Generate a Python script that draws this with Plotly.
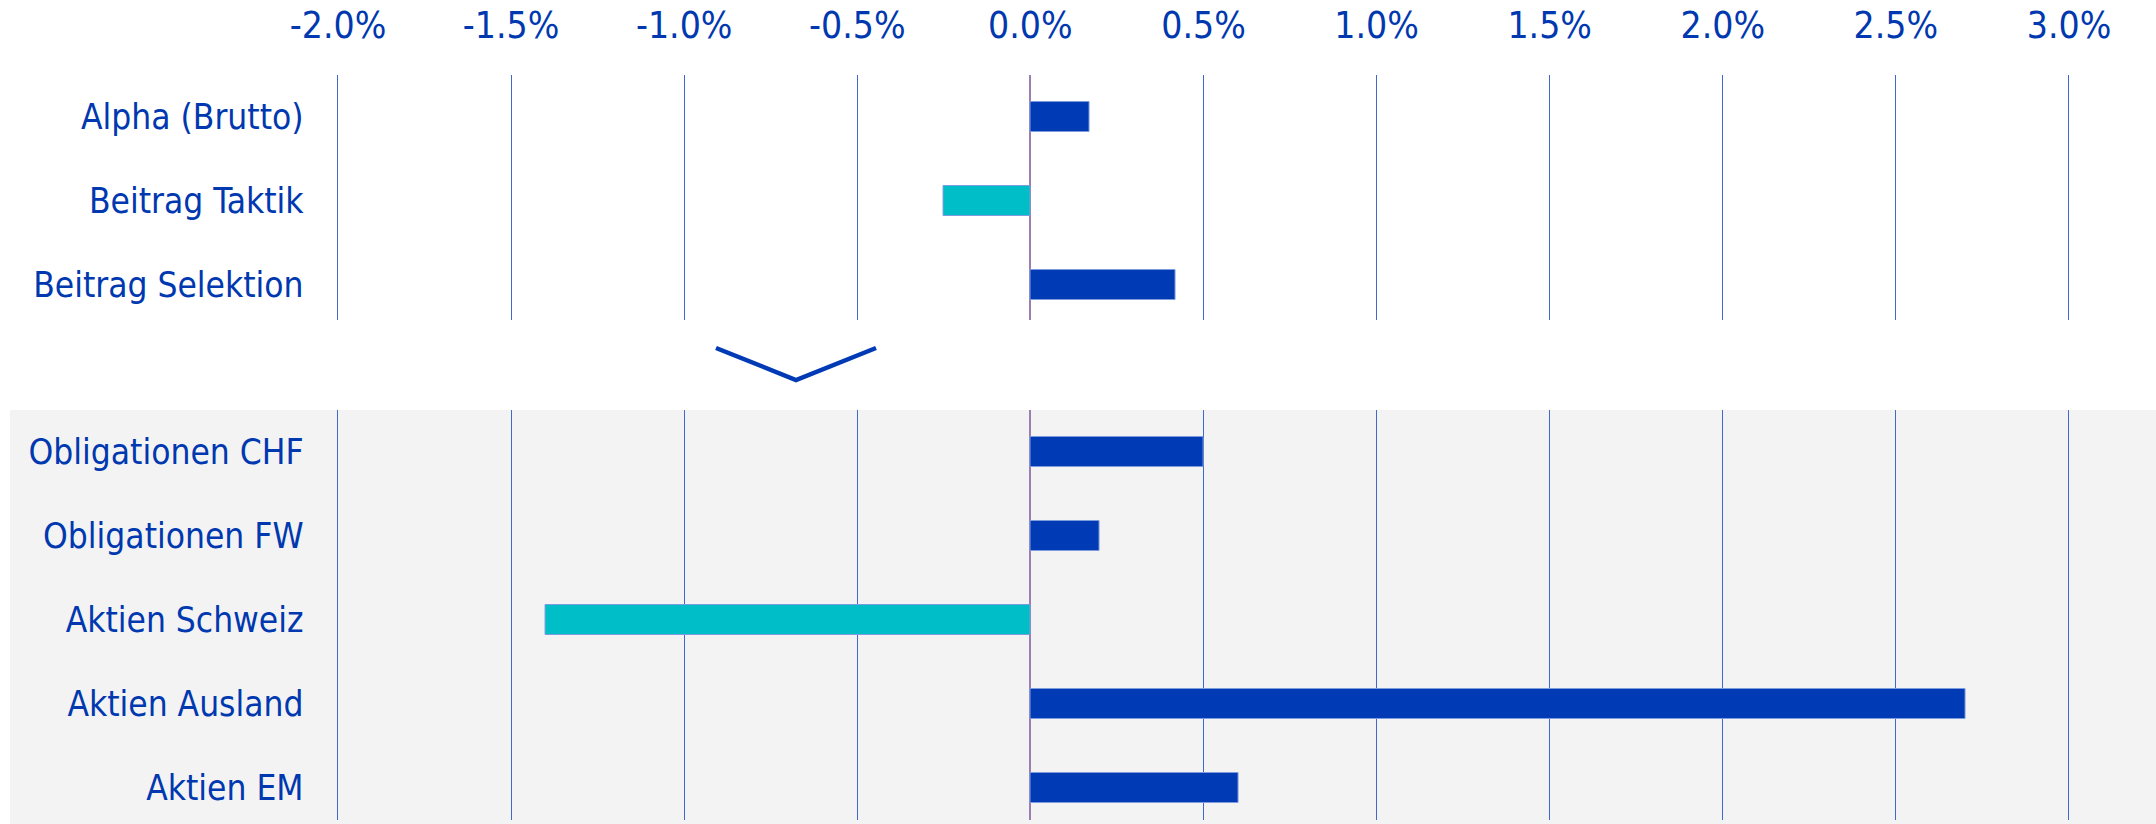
import plotly.graph_objects as go

# ---- data ----
top_categories = ["Alpha (Brutto)", "Beitrag Taktik", "Beitrag Selektion"]
top_values = [0.17, -0.25, 0.42]

bottom_categories = ["Obligationen CHF", "Obligationen FW", "Aktien Schweiz", "Aktien Ausland", "Aktien EM"]
bottom_values = [0.50, 0.20, -1.40, 2.70, 0.60]

x_ticks = [-2.0, -1.5, -1.0, -0.5, 0.0, 0.5, 1.0, 1.5, 2.0, 2.5, 3.0]
x_tick_labels = ["-2.0%", "-1.5%", "-1.0%", "-0.5%", "0.0%", "0.5%", "1.0%", "1.5%", "2.0%", "2.5%", "3.0%"]

# ---- style ----
W, H = 2156, 824
POS = "#003AB4"
NEG = "#00BEC8"
EDGE = "#7E9BDD"
TXT = "#0038B0"
GRID = "#3D6ACB"
ZERO = "#9A80B2"
FONT = "Liberation Sans Narrow, DejaVu Sans Condensed, Arial Narrow, sans-serif"
FS_X = 37
FS_Y = 35


def colors(vals):
    return [POS if v >= 0 else NEG for v in vals]


def px_x(p):
    return p / W


def px_y(p):
    return 1 - p / H


fig = go.Figure()
fig.add_trace(go.Bar(
    y=top_categories, x=top_values, orientation="h",
    marker=dict(color=colors(top_values), line=dict(color=EDGE, width=1)),
    width=0.36, xaxis="x", yaxis="y", showlegend=False,
))
fig.add_trace(go.Bar(
    y=bottom_categories, x=bottom_values, orientation="h",
    marker=dict(color=colors(bottom_values), line=dict(color=EDGE, width=1)),
    width=0.36, xaxis="x2", yaxis="y2", showlegend=False,
))

# -2 -> 338px, 3 -> 2069px; pad range slightly so edge gridlines are kept
PPU = (2069 - 338) / 5.0
PAD = 0.01
xdom = [px_x(338 - PAD * PPU), px_x(2069 + PAD * PPU)]
common_x = dict(
    range=[-2.0 - PAD, 3.0 + PAD], tickvals=x_ticks, ticktext=x_tick_labels,
    showgrid=True, gridcolor=GRID, gridwidth=1,
    zeroline=True, zerolinecolor=ZERO, zerolinewidth=2,
    showline=False, fixedrange=True, automargin=False,
)
ycommon = dict(
    type="category", showgrid=False, zeroline=False, showline=False,
    ticks="outside", ticklen=23, tickcolor="rgba(0,0,0,0)",
    tickfont=dict(family=FONT, size=FS_Y, color=TXT), automargin=False,
    fixedrange=True,
)

fig.update_layout(
    width=W, height=H,
    margin=dict(l=0, r=0, t=0, b=0, autoexpand=False),
    paper_bgcolor="white",
    plot_bgcolor="rgba(0,0,0,0)",
    bargap=0,
    xaxis=dict(domain=xdom, anchor="y", side="top",
               ticks="outside", ticklen=21, tickcolor="rgba(0,0,0,0)",
               tickfont=dict(family=FONT, size=FS_X, color=TXT), **common_x),
    xaxis2=dict(domain=xdom, anchor="y2", matches="x", showticklabels=False, **common_x),
    yaxis=dict(domain=[px_y(320), px_y(75)], anchor="x", range=[2.42, -0.5], **ycommon),
    yaxis2=dict(domain=[px_y(820), px_y(410)], anchor="x2", range=[4.38, -0.5], **ycommon),
    shapes=[
        dict(type="rect", xref="paper", yref="paper",
             x0=px_x(10), x1=1, y0=px_y(824), y1=px_y(410),
             fillcolor="#F3F3F3", line=dict(width=0), layer="below"),
        dict(type="path", xref="paper", yref="paper",
             path=f"M {px_x(716)} {px_y(348)} L {px_x(796)} {px_y(380)} L {px_x(876)} {px_y(348)}",
             line=dict(color=POS, width=4.5), layer="above"),
    ],
)

fig.write_html(
    "out.html",
    config={"displayModeBar": False},
    post_script="document.body.style.margin='0';document.body.style.overflow='hidden';",
)
